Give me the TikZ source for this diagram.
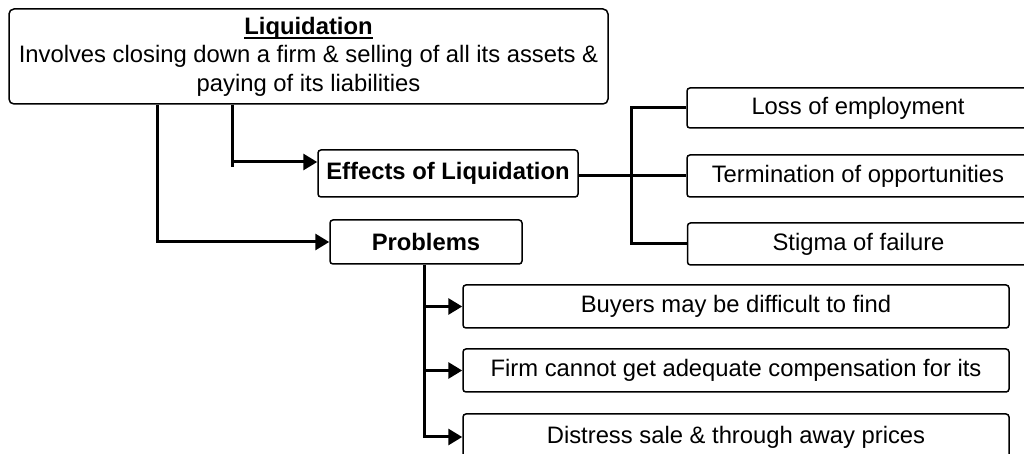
\documentclass[tikz,border=0pt]{standalone}
\usepackage{fontspec}
\setmainfont{Liberation Sans}
\usetikzlibrary{arrows.meta}
% underline drawn just below the baseline, crossing descenders
\newcommand\titleline[1]{\setbox0\hbox{#1}\rlap{\rule[-2.2pt]{\wd0}{0.9pt}}\box0}
\begin{document}
\begin{tikzpicture}[x=0.5pt,y=-0.5pt,
  box/.style={draw=black,line width=0.75pt,rounded corners=1.5pt,inner sep=0pt,
    font=\fontsize{11.9}{14}\selectfont,align=center},
  link/.style={line width=1.5pt},
  tip/.style={link,-{Triangle[length=7pt,width=8pt]}}]
\useasboundingbox (0,0) rectangle (1024,454);
\clip (0,0) rectangle (1024,454);
\fill[white] (0,0) rectangle (1024,454);

% main box
\node[box,rounded corners=2.5pt,minimum width=299.5pt,minimum height=47.5pt,
  font=\fontsize{11.9}{14.2}\selectfont] (top) at (308.5,56.5)
  {\textbf{\titleline{Liquidation}}\\Involves closing down a firm \& selling of all its assets \&\\paying of its liabilities};

% second level
\node[box,minimum width=130pt,minimum height=23.5pt] (effects) at (448,173.5) {\textbf{Effects of Liquidation}};
\node[box,minimum width=96pt,minimum height=22pt] (problems) at (426,242) {\textbf{Problems}};

% effects
\node[box,minimum width=171pt,minimum height=20pt] (loss) at (858,108) {Loss of employment};
\node[box,minimum width=171pt,minimum height=21pt] (term) at (858,176) {Termination of opportunities};
\node[box,minimum width=171pt,minimum height=21pt] (stigma) at (858.5,244) {Stigma of failure};

% problems
\node[box,minimum width=273pt,minimum height=21.5pt] (buyers) at (736,306.5) {Buyers may be difficult to find};
\node[box,minimum width=273pt,minimum height=21.5pt] (firm) at (736,370.5) {Firm cannot get adequate compensation for its};
\node[box,minimum width=273pt,minimum height=23pt] (distress) at (736,437) {Distress sale \& through away prices};

% connector rails
\coordinate (l1) at (157,0);
\coordinate (l2) at (232,0);
\coordinate (bus) at (631,0);
\coordinate (pb) at (424,0);

\draw[tip] (top.south -| l1) |- (problems.west);
\draw[link] (top.south -| l2) -- ++(0,62);
\draw[tip] (top.south -| l2) |- ([yshift=5.75pt]effects.west);

\draw[link] (effects.east |- term.west) -- (term.west);
\draw[link] (loss.west) -- (loss.west -| bus) -- (stigma.west -| bus) -- (stigma.west);

\draw[tip] (problems.south -| pb) |- (distress.west);
\draw[tip] (buyers.west -| pb) -- (buyers.west);
\draw[tip] (firm.west -| pb) -- (firm.west);
\end{tikzpicture}
\end{document}
